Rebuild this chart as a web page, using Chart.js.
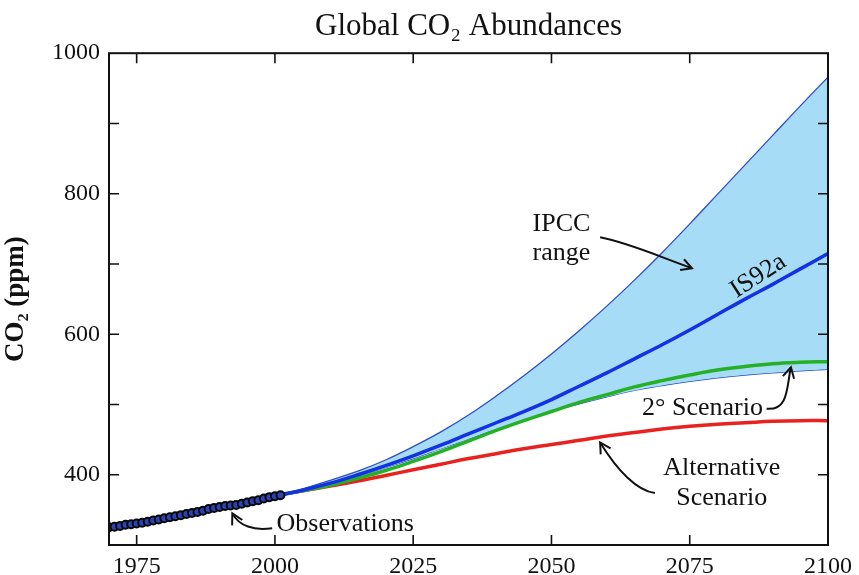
<!DOCTYPE html>
<html>
<head>
<meta charset="utf-8">
<script src="https://cdn.jsdelivr.net/npm/chart.js@4"></script>
<style>
  body { margin: 0; background: #fff; }
  canvas { display: block; }
</style>
</head>
<body>
<canvas id="myChart" width="859" height="575"></canvas>
<script>
// observed CO2 (ppm)
var obsYears = [1970, 1971, 1972, 1973, 1974, 1975, 1976, 1977, 1978, 1979, 1980, 1981, 1982, 1983, 1984, 1985,
                1986, 1987, 1988, 1989, 1990, 1991, 1992, 1993, 1994, 1995, 1996, 1997, 1998, 1999, 2000, 2001];
var obsCO2 = [325.2, 325.9, 327.1, 328.9, 329.6, 330.6, 331.6, 333.2, 334.8, 336.4, 338.2, 339.6, 340.9, 342.5, 344.1, 345.6,
              347.1, 348.9, 351.2, 352.8, 354.1, 355.4, 356.3, 357.1, 358.8, 360.6, 362.4, 363.6, 366.3, 368.1, 369.4, 370.8];

// projections
var projYears   = [2000, 2005, 2010, 2015, 2020, 2025, 2030, 2035, 2040, 2045, 2050, 2055, 2060, 2065, 2070, 2075, 2080, 2085, 2090, 2095, 2100];
var ipccUpper   = [370, 380, 392, 405, 421, 440, 461, 485, 512, 541, 572, 605, 640, 677, 716, 757, 799, 841, 883, 925, 966];
var ipccLower   = [370, 378, 387, 398, 410, 423, 437, 451, 465, 478, 490, 501, 511, 520, 527, 533, 538, 542, 545, 548, 550];
var is92a       = [370, 378, 388, 400, 413, 427, 442, 458, 474, 490, 507, 526, 545, 565, 585, 606, 628, 650, 671, 693, 715];
var twoDegScen  = [370, 377, 385, 395, 406, 419, 433, 448, 463, 477, 490, 503, 514, 525, 534, 542, 549, 554, 558, 560, 561];
var altScenario = [370, 377, 384, 391, 399, 407, 415, 423, 430, 437, 443, 449, 455, 460, 465, 469, 472, 474, 476, 477, 477];

var xTicks = [1975, 2000, 2025, 2050, 2075, 2100];
var yTicks = [300, 400, 500, 600, 700, 800, 900, 1000];
var yLabeled = [400, 600, 800, 1000];

function pts(xs, ys) {
    return xs.map(function (x, i) { return { x: x, y: ys[i] }; });
}

// labels and arrows, placed in data units
var notes = [
    { text: 'IPCC', x: 2051.8, y: 756 },
    { text: 'range', x: 2051.8, y: 715 },
    { text: 'IS92a', x: 2087.4, y: 683, rot: -33 },
    { text: '2\u00B0 Scenario', x: 2077.3, y: 495 },
    { text: 'Alternative', x: 2080.8, y: 410 },
    { text: 'Scenario', x: 2080.8, y: 366 },
    { text: 'Observations', x: 2000.3, y: 329, align: 'left' }
];
var arrows = [
    [[2058.8, 738], [2064, 730], [2069, 712], [2075.4, 694]],
    [[2088.9, 494], [2093.0, 491], [2092.5, 527], [2093.3, 553]],
    [[2068.7, 374], [2065.5, 377], [2061.9, 406], [2058.8, 446]],
    [[1999.5, 324], [1996.2, 320], [1993.5, 327], [1992.3, 345]]
];

var serif = '"Liberation Serif", "Times New Roman", serif';

var framePlugin = {
    id: 'frame',
    afterDatasetsDraw: function (chart) {
        var ctx = chart.ctx, a = chart.chartArea;
        var xs = chart.scales.x, ys = chart.scales.y;
        ctx.save();
        ctx.strokeStyle = '#111';
        ctx.lineWidth = 1.6;
        ctx.beginPath();
        xTicks.forEach(function (v) {
            var px = xs.getPixelForValue(v);
            if (px <= a.left + 1 || px >= a.right - 1) return;
            ctx.moveTo(px, a.bottom); ctx.lineTo(px, a.bottom - 10);
            ctx.moveTo(px, a.top); ctx.lineTo(px, a.top + 10);
        });
        yTicks.forEach(function (v) {
            var py = ys.getPixelForValue(v);
            if (py <= a.top + 1 || py >= a.bottom - 1) return;
            ctx.moveTo(a.left, py); ctx.lineTo(a.left + 10, py);
            ctx.moveTo(a.right, py); ctx.lineTo(a.right - 10, py);
        });
        ctx.stroke();
        ctx.lineWidth = 2;
        ctx.strokeRect(a.left, a.top, a.right - a.left, a.bottom - a.top);

        // annotation text
        ctx.fillStyle = '#111';
        ctx.font = '26px ' + serif;
        ctx.textBaseline = 'middle';
        notes.forEach(function (n) {
            var px = xs.getPixelForValue(n.x), py = ys.getPixelForValue(n.y);
            ctx.save();
            ctx.translate(px, py);
            if (n.rot) ctx.rotate(n.rot * Math.PI / 180);
            ctx.textAlign = n.align || 'center';
            ctx.fillText(n.text, 0, 0);
            ctx.restore();
        });

        // curved arrows
        ctx.lineWidth = 2;
        arrows.forEach(function (ar) {
            var p = ar.map(function (q) { return [xs.getPixelForValue(q[0]), ys.getPixelForValue(q[1])]; });
            ctx.beginPath();
            ctx.moveTo(p[0][0], p[0][1]);
            ctx.bezierCurveTo(p[1][0], p[1][1], p[2][0], p[2][1], p[3][0], p[3][1]);
            ctx.stroke();
            var ang = Math.atan2(p[3][1] - p[2][1], p[3][0] - p[2][0]);
            var len = 12, spread = 0.5;
            ctx.beginPath();
            ctx.moveTo(p[3][0] - len * Math.cos(ang - spread), p[3][1] - len * Math.sin(ang - spread));
            ctx.lineTo(p[3][0], p[3][1]);
            ctx.lineTo(p[3][0] - len * Math.cos(ang + spread), p[3][1] - len * Math.sin(ang + spread));
            ctx.stroke();
        });
        ctx.restore();
    }
};

var smooth = { pointRadius: 0, tension: 0.4, fill: false };

var ctx = document.getElementById('myChart').getContext('2d');
var myChart = new Chart(ctx, {
    type: 'line',
    data: {
        datasets: [
            {
                label: 'Observations',
                data: pts(obsYears, obsCO2),
                borderColor: '#2747d8',
                borderWidth: 3,
                pointRadius: 4,
                pointBackgroundColor: '#2a44b8',
                pointBorderColor: '#0a0a0a',
                pointBorderWidth: 2,
                fill: false
            },
            Object.assign({
                label: 'IS92a',
                data: pts(projYears, is92a),
                borderColor: '#1232e4',
                borderWidth: 3.5
            }, smooth),
            Object.assign({
                label: '2° Scenario',
                data: pts(projYears, twoDegScen),
                borderColor: '#26b026',
                borderWidth: 3.5
            }, smooth),
            Object.assign({
                label: 'Alternative Scenario',
                data: pts(projYears, altScenario),
                borderColor: '#e8221e',
                borderWidth: 3.5
            }, smooth),
            Object.assign({}, smooth, {
                label: 'IPCC upper',
                data: pts(projYears, ipccUpper),
                borderColor: '#2b4ecc',
                borderWidth: 1.3,
                backgroundColor: '#a6dcf6',
                fill: '+1'
            }),
            Object.assign({
                label: 'IPCC lower',
                data: pts(projYears, ipccLower),
                borderColor: '#2b4ecc',
                borderWidth: 1.3
            }, smooth)
        ]
    },
    options: {
        responsive: false,
        animation: false,
        layout: { padding: { left: 0, right: 27, top: 0, bottom: 0 } },
        plugins: {
            legend: { display: false },
            tooltip: { enabled: false },
            title: {
                display: true,
                text: 'Global CO\u2082 Abundances',
                fullSize: false,
                color: '#111',
                font: { family: serif, size: 31, weight: 'normal', lineHeight: 1.2 },
                padding: { top: 8, bottom: 8 }
            }
        },
        scales: {
            x: {
                type: 'linear',
                min: 1970,
                max: 2100,
                afterBuildTicks: function (s) { s.ticks = xTicks.map(function (v) { return { value: v }; }); },
                afterFit: function (s) { s.height = 30; },
                grid: { display: false, drawTicks: false },
                border: { display: false },
                ticks: {
                    color: '#111',
                    padding: 7,
                    maxRotation: 0,
                    font: { family: serif, size: 24 },
                    callback: function (v) { return String(v); }
                }
            },
            y: {
                type: 'linear',
                min: 300,
                max: 1000,
                afterBuildTicks: function (s) { s.ticks = yTicks.map(function (v) { return { value: v }; }); },
                afterFit: function (s) { s.width = 109; },
                grid: { display: false, drawTicks: false },
                border: { display: false },
                ticks: {
                    color: '#111',
                    padding: 9,
                    font: { family: serif, size: 24 },
                    callback: function (v) { return yLabeled.indexOf(v) >= 0 ? String(v) : ''; }
                },
                title: {
                    display: true,
                    text: 'CO\u2082 (ppm)',
                    color: '#111',
                    font: { family: serif, size: 27, weight: 'bold' },
                    padding: { top: 0, bottom: 0 }
                }
            }
        }
    },
    plugins: [framePlugin]
});
</script>
</body>
</html>
